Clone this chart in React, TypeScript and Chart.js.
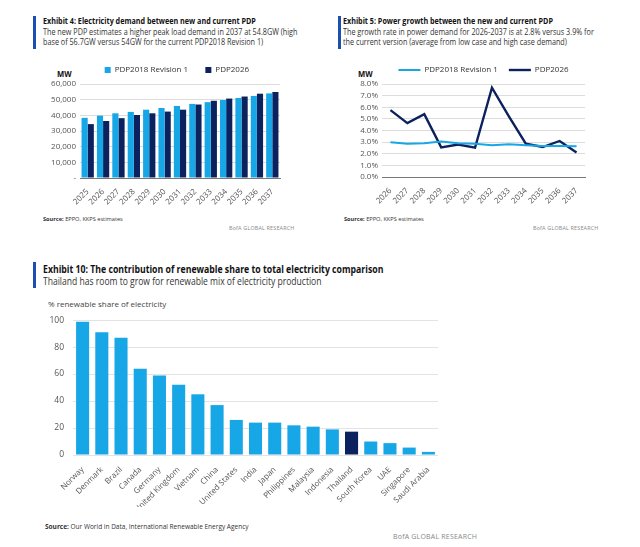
import React, { useEffect, useRef } from "react";
import { Chart, registerables } from "chart.js";
Chart.register(...registerables);

const FONT = '"Open Sans", Arial, sans-serif';
const LIGHT = "#18a7e6";
const DARK = "#0b225f";
const BAR_BLUE = "#1d4fb3";

// Exhibit 4
const demandYears = ["2025", "2026", "2027", "2028", "2029", "2030", "2031", "2032", "2033", "2034", "2035", "2036", "2037"];
const demandPdp2018 = [38400, 39800, 41300, 42200, 43600, 44700, 46000, 47300, 48400, 49800, 51100, 52400, 54000];
const demandPdp2026 = [34400, 36400, 38200, 40200, 41300, 42400, 43600, 46900, 49300, 50700, 52000, 53800, 54900];

// Exhibit 5
const growthYears = ["2026", "2027", "2028", "2029", "2030", "2031", "2032", "2033", "2034", "2035", "2036", "2037"];
const growthPdp2018 = [2.99, 2.87, 2.9, 3.05, 2.9, 2.87, 2.73, 2.82, 2.73, 2.67, 2.67, 2.64];
const growthPdp2026 = [5.75, 4.63, 5.4, 2.55, 2.79, 2.52, 7.68, 5.22, 2.87, 2.58, 3.1, 2.1];

// Exhibit 10
const countries = ["Norway", "Denmark", "Brazil", "Canada", "Germany", "United Kingdom", "Vietnam", "China", "United States", "India", "Japan", "Philippines", "Malaysia", "Indonesia", "Thailand", "South Korea", "UAE", "Singapore", "Saudi Arabia"];
const renewableShare = [98.7, 91, 87, 64, 59, 52, 45, 37, 26, 24, 24, 22, 21, 19, 17.3, 10, 8.8, 5.5, 2.3];
const highlightCountry = "Thailand";

const tickFont = { family: FONT, size: 8 };
const tickColor = "#555";
const gridColor = "#dcdcdc";

function useChart(ref: React.RefObject<HTMLCanvasElement>, makeConfig: () => any) {
  useEffect(() => {
    if (!ref.current) return;
    const chart = new Chart(ref.current, makeConfig());
    return () => chart.destroy();
  }, []);
}

function spacedLabels(extra: string) {
  return (chart: any) =>
    Chart.defaults.plugins.legend.labels.generateLabels(chart).map((l: any) => ({ ...l, text: l.text + extra }));
}

function DemandChart() {
  const ref = useRef<HTMLCanvasElement>(null);
  useChart(ref, () => ({
    type: "bar",
    data: {
      labels: demandYears,
      datasets: [
        { label: "PDP2018 Revision 1", data: demandPdp2018, backgroundColor: LIGHT, categoryPercentage: 0.8, barPercentage: 1 },
        { label: "PDP2026", data: demandPdp2026, backgroundColor: DARK, categoryPercentage: 0.8, barPercentage: 1 },
      ],
    },
    options: {
      responsive: false,
      animation: false,
      layout: { padding: { left: 0, right: 40, top: 0, bottom: 0 } },
      plugins: {
        tooltip: { enabled: false },
        legend: {
          position: "top",
          fullSize: false,
          labels: {
            boxWidth: 6, boxHeight: 6, font: { family: FONT, size: 8 }, color: "#333", padding: 11,
            generateLabels: spacedLabels("   "),
          },
        },
      },
      scales: {
        x: {
          grid: { display: false },
          border: { color: "#777" },
          ticks: { autoSkip: false, minRotation: 45, maxRotation: 45, color: tickColor, font: tickFont, padding: 1 },
          afterFit: (s: any) => { s.height = 30; },
        },
        y: {
          min: 0, max: 60000,
          grid: { color: gridColor, drawTicks: false },
          border: { display: false },
          ticks: {
            autoSkip: false, stepSize: 10000, color: tickColor, font: tickFont, padding: 4,
            callback: (v: any) => (Number(v) === 0 ? "-" : Number(v).toLocaleString("en-US")),
          },
          afterFit: (s: any) => { s.width = 40; },
        },
      },
    },
  }));
  return <canvas ref={ref} width={280} height={153} style={{ position: "absolute", left: 40, top: 55, width: 280, height: 153 }} />;
}

function GrowthChart() {
  const ref = useRef<HTMLCanvasElement>(null);
  useChart(ref, () => ({
    type: "line",
    data: {
      labels: growthYears,
      datasets: [
        { label: "PDP2018 Revision 1", data: growthPdp2018, borderColor: LIGHT, backgroundColor: LIGHT, borderWidth: 2, pointRadius: 0, tension: 0 },
        { label: "PDP2026", data: growthPdp2026, borderColor: DARK, backgroundColor: DARK, borderWidth: 2.4, pointRadius: 0, tension: 0 },
      ],
    },
    options: {
      responsive: false,
      animation: false,
      layout: { padding: { left: 0, right: 22, top: 0, bottom: 0 } },
      plugins: {
        tooltip: { enabled: false },
        legend: {
          position: "top",
          fullSize: false,
          labels: { usePointStyle: true, pointStyle: "line", pointStyleWidth: 22, boxHeight: 8, font: { family: FONT, size: 8 }, color: "#333", padding: 11 },
        },
      },
      scales: {
        x: {
          offset: true,
          grid: { display: false },
          border: { color: "#777" },
          ticks: { autoSkip: false, minRotation: 45, maxRotation: 45, color: tickColor, font: tickFont, padding: 1 },
          afterFit: (s: any) => { s.height = 30; },
        },
        y: {
          min: 0, max: 8,
          grid: { color: gridColor, drawTicks: false },
          border: { display: false },
          ticks: { autoSkip: false, stepSize: 1, color: tickColor, font: tickFont, padding: 4, callback: (v: any) => Number(v).toFixed(1) + "%" },
          afterFit: (s: any) => { s.width = 37; },
        },
      },
    },
  }));
  return <canvas ref={ref} width={262} height={152} style={{ position: "absolute", left: 345, top: 55, width: 262, height: 152 }} />;
}

function RenewableChart() {
  const ref = useRef<HTMLCanvasElement>(null);
  useChart(ref, () => ({
    type: "bar",
    data: {
      labels: countries,
      datasets: [
        {
          label: "% renewable share of electricity",
          data: renewableShare,
          backgroundColor: countries.map((c) => (c === highlightCountry ? DARK : LIGHT)),
          categoryPercentage: 1,
          barPercentage: 0.68,
        },
      ],
    },
    options: {
      responsive: false,
      animation: false,
      layout: { padding: { left: 0, right: 12, top: 6, bottom: 0 } },
      plugins: { tooltip: { enabled: false }, legend: { display: false } },
      scales: {
        x: {
          grid: { display: false },
          border: { display: false },
          ticks: { autoSkip: false, minRotation: 45, maxRotation: 45, color: tickColor, font: tickFont, padding: 2 },
          afterFit: (s: any) => { s.height = 52; },
        },
        y: {
          min: 0, max: 100,
          grid: { color: "#e3e3e3", drawTicks: false },
          border: { display: false },
          ticks: { autoSkip: false, stepSize: 20, color: tickColor, font: { family: FONT, size: 8.5 }, padding: 9 },
          afterFit: (s: any) => { s.width = 33; },
        },
      },
    },
  }));
  return <canvas ref={ref} width={410} height={201} style={{ position: "absolute", left: 40, top: 306, width: 410, height: 201 }} />;
}

const abs = (left: number, top: number, extra: React.CSSProperties = {}, sx = 1): React.CSSProperties => ({
  position: "absolute", left, top, whiteSpace: "nowrap",
  transform: sx !== 1 ? `scaleX(${sx})` : undefined, transformOrigin: "left top", ...extra,
});

export default function App() {
  const small: React.CSSProperties = { fontSize: 8.5, lineHeight: "10px", color: "#333" };
  const title: React.CSSProperties = { fontSize: 8.5, lineHeight: "10px", fontWeight: 700, color: "#111" };
  const src: React.CSSProperties = { fontSize: 6, lineHeight: "8px", color: "#333" };
  const bofa: React.CSSProperties = { fontSize: 6, lineHeight: "8px", color: "#888", letterSpacing: 0.2 };
  const mw: React.CSSProperties = { fontSize: 9, fontWeight: 700, color: "#111", lineHeight: "10px" };
  return (
    <div style={{ position: "fixed", left: 0, top: 0, width: 640, height: 547, background: "#fff", overflow: "hidden", fontFamily: FONT }}>
      {/* Exhibit 4 */}
      <div style={abs(33, 16, { width: 3, height: 33, background: BAR_BLUE })} />
      <div style={abs(43, 16, title, 0.846)}>Exhibit 4: Electricity demand between new and current PDP</div>
      <div style={abs(43, 27, small, 0.85)}>
        The new PDP estimates a higher peak load demand in 2037 at 54.8GW (high<br />
        base of 56.7GW versus 54GW for the current PDP2018 Revision 1)
      </div>
      <div style={abs(57, 69, mw, 0.85)}>MW</div>
      <div style={abs(43, 215, src, 0.94)}><b>Source:</b> EPPO, KKPS estimates</div>
      <div style={abs(229, 224, bofa, 0.9)}>BofA GLOBAL RESEARCH</div>

      {/* Exhibit 5 */}
      <div style={abs(338, 16, { width: 3, height: 33, background: BAR_BLUE })} />
      <div style={abs(343, 16, title, 0.846)}>Exhibit 5: Power growth between the new and current PDP</div>
      <div style={abs(343, 27, small, 0.85)}>
        The growth rate in power demand for 2026-2037 is at 2.8% versus 3.9% for<br />
        the current version (average from low case and high case demand)
      </div>
      <div style={abs(358, 69, mw, 0.85)}>MW</div>
      <div style={abs(344, 215, src, 0.94)}><b>Source:</b> EPPO, KKPS estimates</div>
      <div style={abs(533, 224, bofa, 0.9)}>BofA GLOBAL RESEARCH</div>

      {/* Exhibit 10 */}
      <div style={abs(33, 262, { width: 3, height: 26, background: BAR_BLUE })} />
      <div style={abs(43, 263, { fontSize: 10.5, lineHeight: "12px", fontWeight: 700, color: "#111" }, 0.83)}>
        Exhibit 10: The contribution of renewable share to total electricity comparison
      </div>
      <div style={abs(43, 275, { fontSize: 10, lineHeight: "12px", color: "#333" }, 0.855)}>
        Thailand has room to grow for renewable mix of electricity production
      </div>
      <div style={abs(48, 299, { fontSize: 8, lineHeight: "10px", color: "#444" })}>% renewable share of electricity</div>
      <div style={abs(45, 523, { fontSize: 6.5, lineHeight: "8px", color: "#333" })}><b>Source:</b> Our World in Data, International Renewable Energy Agency</div>
      <div style={abs(393, 533, { fontSize: 7, lineHeight: "8px", color: "#888", letterSpacing: 0.2 })}>BofA GLOBAL RESEARCH</div>

      <DemandChart />
      <GrowthChart />
      <RenewableChart />
    </div>
  );
}
